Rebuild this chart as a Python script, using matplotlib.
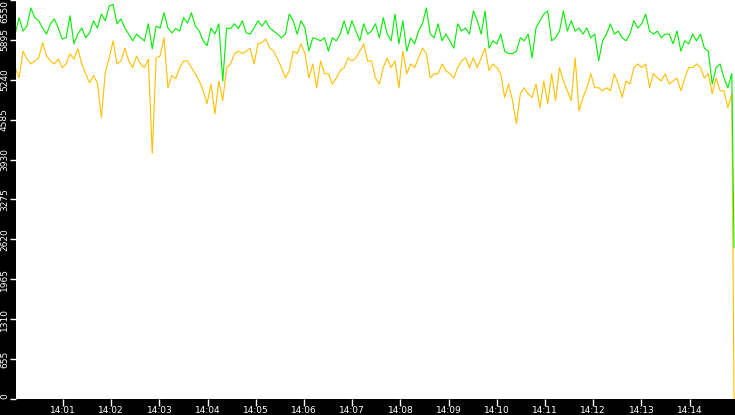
import numpy as np
import matplotlib
matplotlib.use("Agg")
import matplotlib.pyplot as plt

# seconds after 14:00:00, one reading every ~5 s, last reading at the cut-off
n_main = 184
sample_start, sample_end, last_time = 0.5, 892.5, 895.3

green_vals = [
    5990, 6260, 6040, 6120, 6420, 6260, 6210, 6090, 5990, 6160, 6240, 6090, 5910, 5930, 6290, 5830,
    5990, 6090, 5930, 6010, 6210, 6090, 6320, 6210, 6450, 6480, 6160, 6240, 6090, 5990, 5880, 5990,
    5930, 5880, 6160, 5750, 6120, 6090, 6340, 6090, 6010, 6080, 6040, 6260, 6170, 6340, 6120, 6040,
    5880, 5800, 6090, 5990, 6160, 5220, 6090, 6080, 6160, 6080, 6210, 6010, 5990, 6090, 6210, 6120,
    6210, 6090, 6040, 5990, 5930, 5990, 6320, 6210, 5990, 6210, 6090, 5710, 5930, 5910, 5880, 5930,
    5710, 5930, 5880, 5990, 6210, 5990, 6210, 6040, 5880, 6160, 5990, 6040, 6160, 5930, 6260, 5990,
    5880, 6320, 5830, 6210, 5710, 5930, 5830, 6040, 6160, 6420, 5990, 5930, 6160, 5880, 5990, 5880,
    5760, 6160, 6040, 6090, 5990, 6370, 6210, 5990, 6370, 5760, 5880, 5830, 5990, 5710, 5670, 5670,
    5710, 5930, 5880, 5990, 5600, 6090, 6210, 6320, 6370, 5880, 5930, 6040, 6370, 6040, 6210, 6040,
    6090, 5990, 6090, 5930, 5990, 5550, 5880, 5990, 6160, 5990, 6040, 5930, 5880, 5990, 6210, 6090,
    6160, 6320, 6040, 5990, 6040, 5930, 5990, 5990, 5830, 6040, 5710, 5880, 5830, 5990, 5880, 5990,
    5760, 5710, 5170, 5440, 5500, 5270, 5110, 5340,
    2490,
]

orange_vals = [
    5440, 5270, 5710, 5580, 5500, 5550, 5600, 5850, 5630, 5550, 5500, 5580, 5440, 5500, 5670, 5580,
    5750, 5500, 5340, 5190, 5310, 5190, 4620, 5350, 5600, 5880, 5500, 5550, 5760, 5550, 5440, 5630,
    5500, 5440, 5580, 4030, 5600, 5630, 5930, 5110, 5310, 5260, 5440, 5550, 5550, 5440, 5340, 5220,
    5060, 4850, 5170, 4680, 5220, 4900, 5440, 5500, 5670, 5710, 5670, 5710, 5760, 5500, 5830, 5850,
    5910, 5760, 5710, 5580, 5440, 5270, 5390, 5710, 5670, 5830, 5670, 5270, 5500, 5110, 5550, 5340,
    5340, 5170, 5270, 5390, 5440, 5600, 5550, 5600, 5710, 5830, 5550, 5550, 5270, 5170, 5440, 5600,
    5440, 5550, 5110, 5710, 5340, 5500, 5440, 5600, 5760, 5670, 5270, 5340, 5340, 5500, 5390, 5340,
    5270, 5440, 5550, 5600, 5440, 5600, 5440, 5600, 5760, 5390, 5500, 5440, 5340, 4950, 5170, 4900,
    4520, 5010, 5110, 5010, 4950, 5170, 4780, 5220, 4850, 5340, 4900, 5440, 5220, 5060, 4900, 5600,
    4730, 4950, 5110, 5340, 5110, 5110, 5060, 5110, 5060, 5340, 5170, 4950, 5220, 5170, 5440, 5500,
    5440, 5500, 5110, 5340, 5270, 5220, 5340, 5170, 5220, 5270, 5060, 5270, 5440, 5440, 5500, 5440,
    5270, 5340, 5010, 5270, 5060, 5060, 4780, 5010,
    0,
]

yticks = [0, 655, 1310, 1965, 2620, 3275, 3930, 4585, 5240, 5895, 6550]
xtick_labels = ['14:01', '14:02', '14:03', '14:04', '14:05', '14:06', '14:07',
                '14:08', '14:09', '14:10', '14:11', '14:12', '14:13', '14:14']

times = np.append(np.linspace(sample_start, sample_end, n_main), last_time)

fig = plt.figure(figsize=(7.35, 4.15), dpi=100, facecolor='black')
ax = fig.add_axes([16 / 735, 16 / 415, 719 / 735, 399 / 415])
ax.set_facecolor('white')

ax.plot(times, orange_vals, color='#ffc000', lw=0.8)
ax.plot(times, green_vals, color='#00ee00', lw=0.8)

ax.set_xlim(1.5, 896.5)
ax.set_ylim(0, 6550)

ax.set_yticks(yticks)
ax.set_yticklabels([str(v) for v in yticks], rotation=90, va='center')
# end labels are kept inside the figure
ax.get_yticklabels()[-1].set_va('top')
ax.get_yticklabels()[0].set_va('bottom')
ax.set_xticks([60 * (i + 1) for i in range(len(xtick_labels))])
ax.set_xticklabels(xtick_labels)

ax.tick_params(axis='both', colors='white', labelsize=6.5, length=4, width=1, direction='out')
ax.tick_params(axis='y', pad=1)
ax.tick_params(axis='x', pad=0, length=5)

for s in ax.spines.values():
    s.set_visible(False)

fig.savefig('out.png', dpi=100, facecolor='black')
